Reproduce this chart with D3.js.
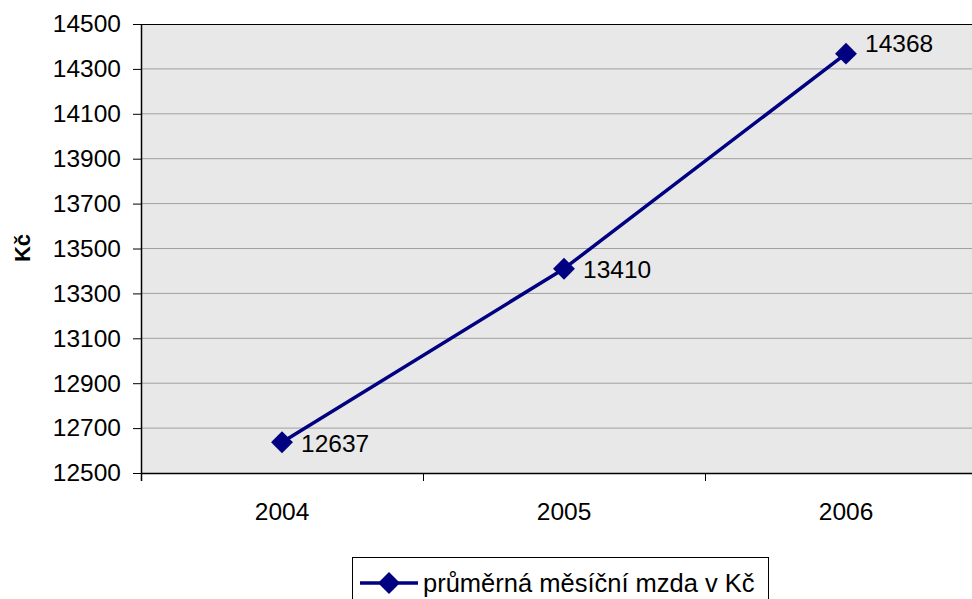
<!DOCTYPE html>
<html>
<head>
<meta charset="utf-8">
<script src="https://cdn.jsdelivr.net/npm/d3@7"></script>
<style>
  body { margin: 0; background: #fff; }
  svg { display: block; font-family: 'Liberation Sans', Arial, sans-serif; }
</style>
</head>
<body>
<svg id="chart" width="972" height="599"></svg>
<script>
// data
const years = ['2004', '2005', '2006'];
const wages = [12637, 13410, 14368];
const yTicks = [12500, 12700, 12900, 13100, 13300, 13500, 13700, 13900, 14100, 14300, 14500];
const seriesName = 'průměrná měsíční mzda v Kč';
const yTitle = 'Kč';

const svg = d3.select('#chart'),
  margin = { top: 24, left: 141 },
  plotW = 846,
  plotH = 449,
  navy = '#000080',
  fontSize = 24.5,
  g = svg.append('g').attr('transform', 'translate(' + margin.left + ',' + margin.top + ')');

const x = d3.scaleBand()
  .domain(years)
  .range([0, plotW]);

const y = d3.scaleLinear()
  .domain([12500, 14500])
  .range([plotH, 0]);

// plot background
g.append('rect')
  .attr('width', plotW)
  .attr('height', plotH)
  .attr('fill', '#e8e8e8');

// gridlines
g.selectAll('.grid')
  .data(yTicks.slice(1, -1))
  .enter().append('line')
  .attr('x1', 0)
  .attr('x2', plotW)
  .attr('y1', d => y(d))
  .attr('y2', d => y(d))
  .attr('stroke', '#a0a0a0')
  .attr('stroke-width', 1);

// top border
g.append('line')
  .attr('x1', 0).attr('x2', plotW)
  .attr('y1', 0.5).attr('y2', 0.5)
  .attr('stroke', '#000');

// y axis
const yAxis = g.append('g')
  .call(d3.axisLeft(y).tickValues(yTicks).tickSize(8).tickPadding(12).tickFormat(d3.format('d')));
yAxis.select('.domain').attr('d', 'M0.5,0V' + (plotH + 8)).attr('stroke', '#000').attr('stroke-width', 1.5);
yAxis.selectAll('text')
  .attr('font-size', fontSize)
  .attr('font-family', 'Liberation Sans, Arial, sans-serif')
  .attr('fill', '#000');

// x axis
const xAxis = g.append('g')
  .attr('transform', 'translate(0,' + plotH + ')')
  .call(d3.axisBottom(x).tickSize(0).tickPadding(30));
xAxis.select('.domain').attr('d', 'M0,0.5H' + plotW).attr('stroke', '#000').attr('stroke-width', 1.5);
xAxis.selectAll('text')
  .attr('font-size', fontSize)
  .attr('font-family', 'Liberation Sans, Arial, sans-serif')
  .attr('fill', '#000');
// category separator ticks
xAxis.selectAll('.sep')
  .data(years.concat(['end']))
  .enter().append('line')
  .attr('x1', (d, i) => i * x.step() + 0.5)
  .attr('x2', (d, i) => i * x.step() + 0.5)
  .attr('y1', 0)
  .attr('y2', 8)
  .attr('stroke', '#000');

// y title
svg.append('text')
  .attr('transform', 'translate(30,248) rotate(-90)')
  .attr('text-anchor', 'middle')
  .attr('font-size', 22)
  .attr('font-weight', 'bold')
  .text(yTitle);

// series line
const cx = d => x(d) + x.bandwidth() / 2;
const line = d3.line()
  .x((d, i) => cx(years[i]))
  .y(d => y(d));

g.append('path')
  .datum(wages)
  .attr('fill', 'none')
  .attr('stroke', navy)
  .attr('stroke-width', 3.5)
  .attr('stroke-linejoin', 'round')
  .attr('d', line);

const diamond = d3.symbol().type(d3.symbolSquare).size(240);
g.selectAll('.marker')
  .data(wages)
  .enter().append('path')
  .attr('d', diamond)
  .attr('fill', navy)
  .attr('transform', (d, i) => 'translate(' + cx(years[i]) + ',' + y(d) + ') rotate(45)');

// data labels
g.selectAll('.label')
  .data(wages)
  .enter().append('text')
  .attr('x', (d, i) => cx(years[i]) + 19)
  .attr('y', (d, i) => y(d) + (i === wages.length - 1 ? -10 : 1))
  .attr('dy', '0.35em')
  .attr('font-size', fontSize)
  .attr('fill', '#000')
  .text(d => d);

// legend
const legend = svg.append('g').attr('transform', 'translate(352,557)');
legend.append('rect')
  .attr('x', 0.5).attr('y', 0.5)
  .attr('width', 416).attr('height', 50)
  .attr('fill', '#fff')
  .attr('stroke', '#000');
legend.append('line')
  .attr('x1', 8).attr('x2', 66)
  .attr('y1', 26).attr('y2', 26)
  .attr('stroke', navy)
  .attr('stroke-width', 3.5);
legend.append('path')
  .attr('d', diamond)
  .attr('fill', navy)
  .attr('transform', 'translate(37,26) rotate(45)');
legend.append('text')
  .attr('x', 71)
  .attr('y', 26)
  .attr('dy', '0.35em')
  .attr('font-size', 25.5)
  .text(seriesName);
</script>
</body>
</html>
